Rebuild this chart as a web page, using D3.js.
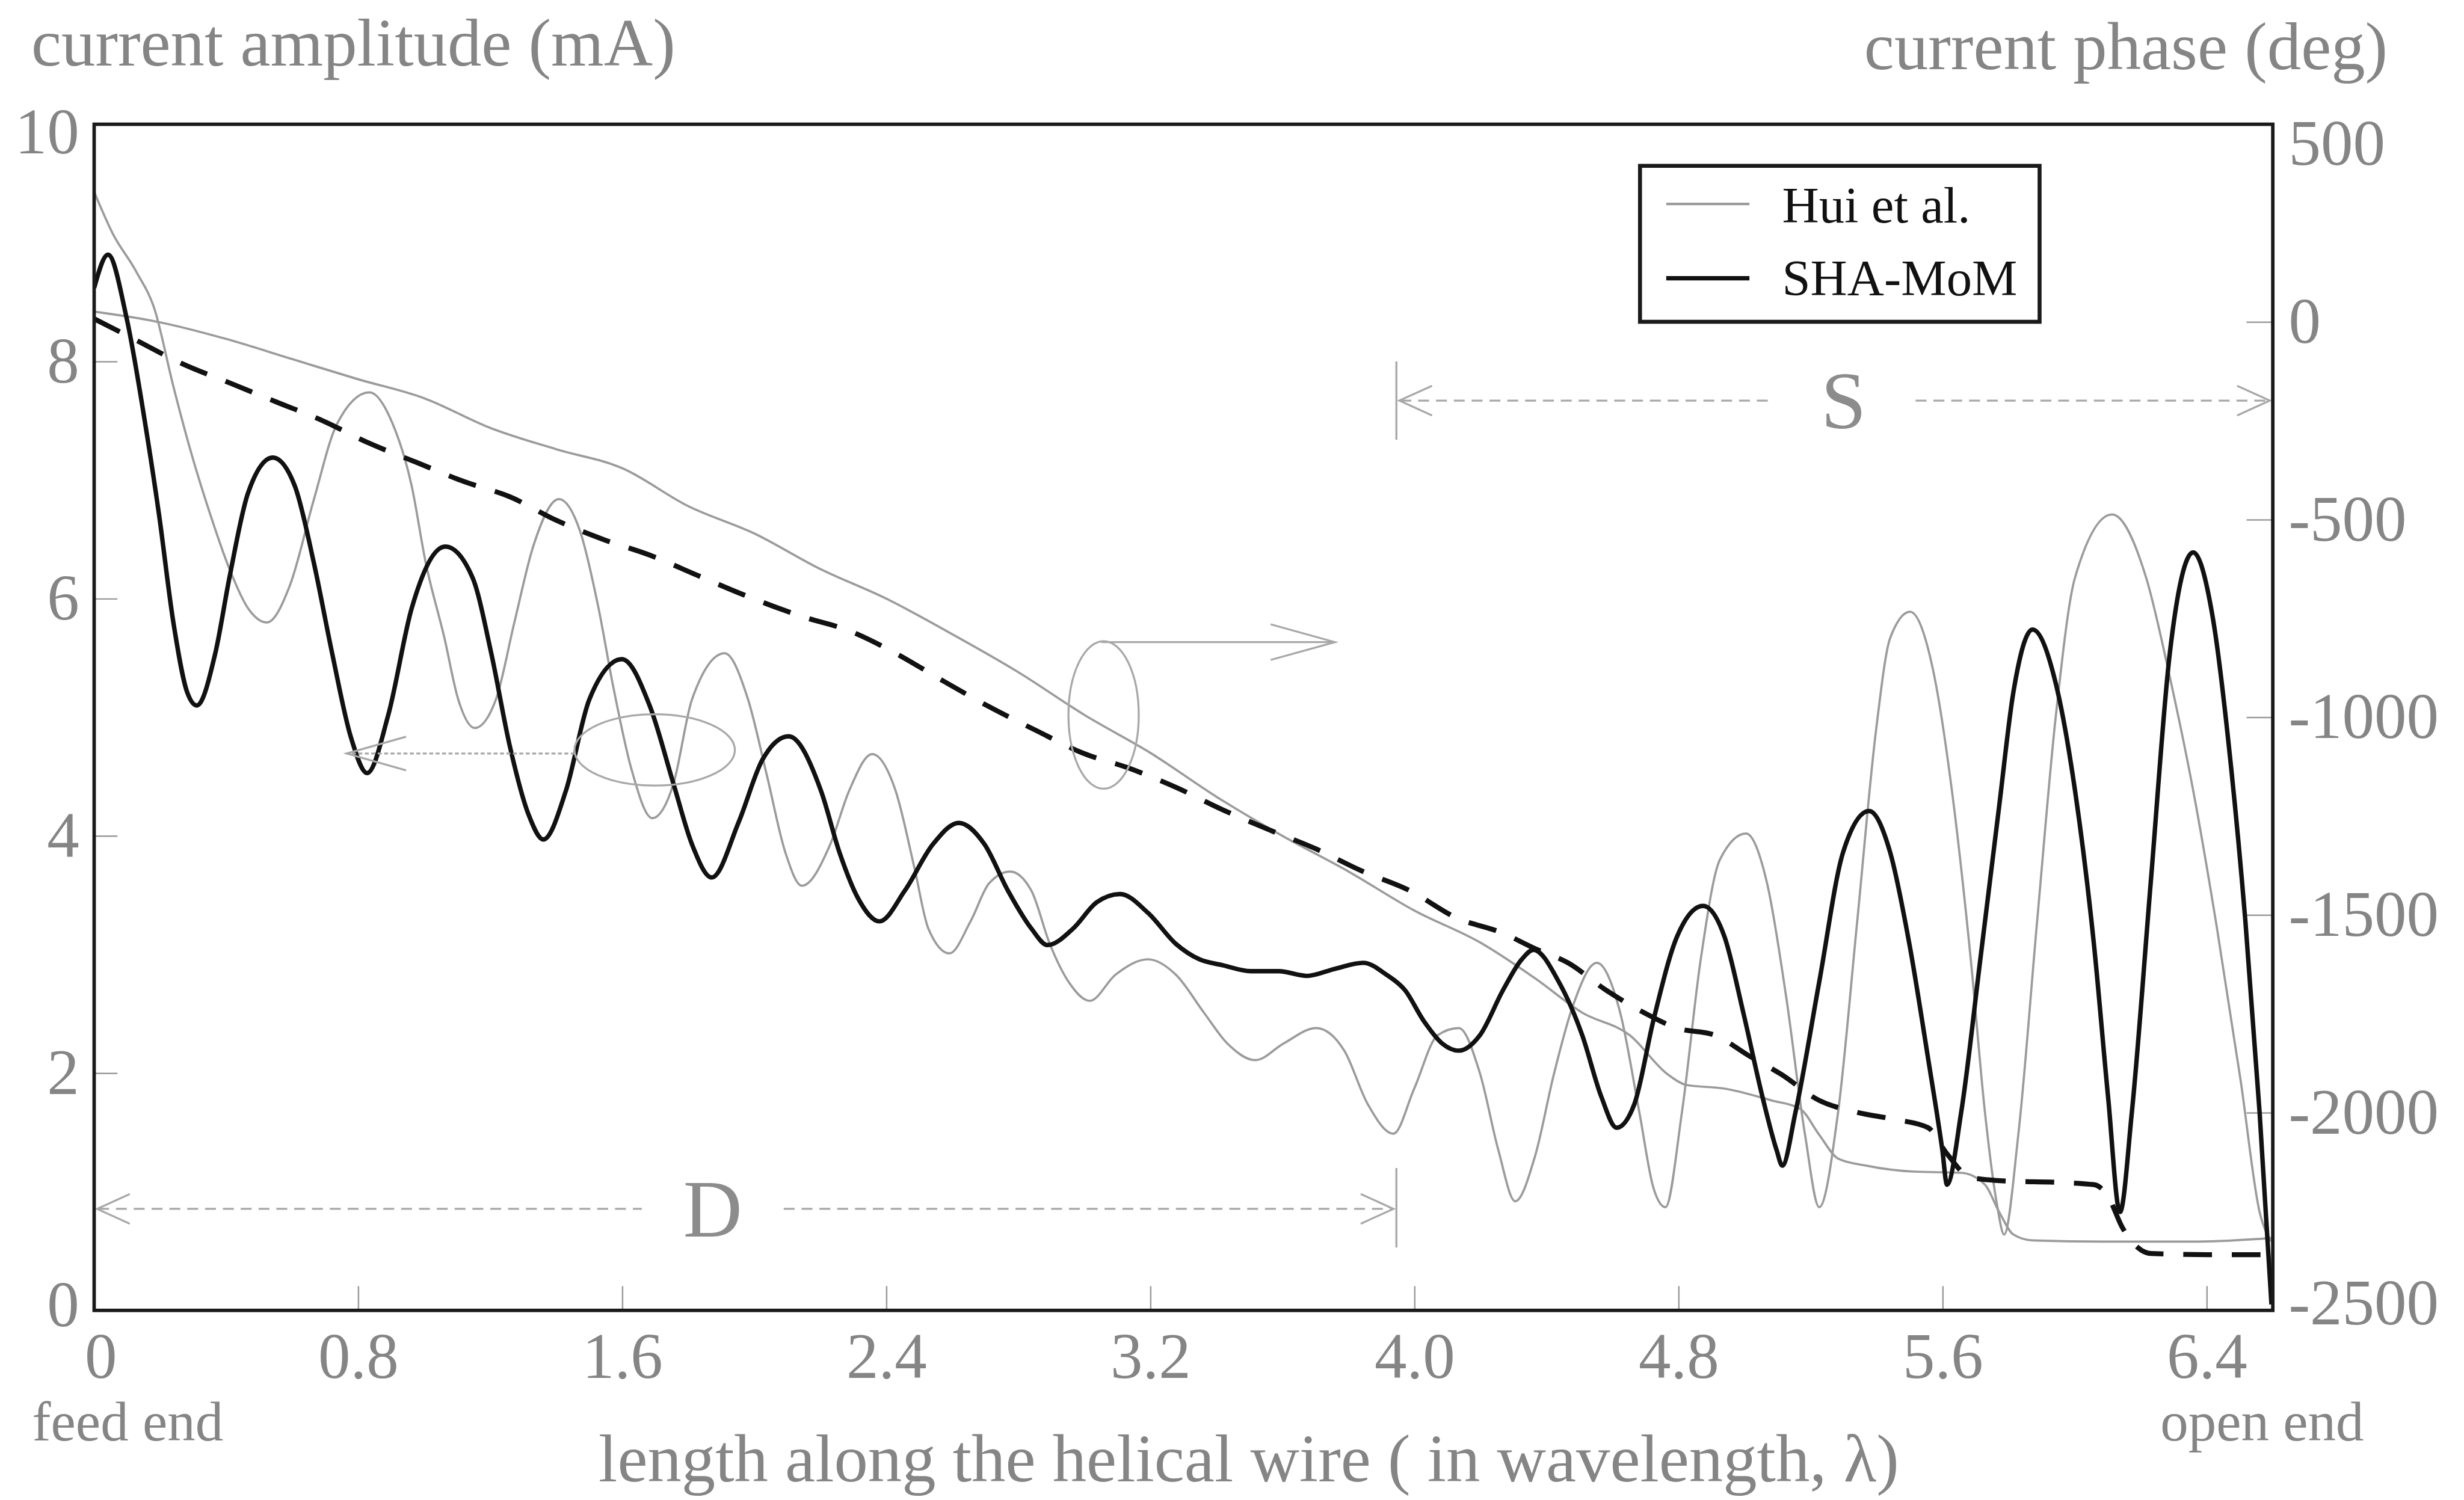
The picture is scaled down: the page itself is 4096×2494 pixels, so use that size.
<!DOCTYPE html>
<html>
<head>
<meta charset="utf-8">
<title>current along the helical wire</title>
<script src="https://d3js.org/d3.v7.min.js"></script>
<style>
  body { margin: 0; background: #fff; }
  svg { display: block; }
  .lbl { font-family: "Liberation Serif", "DejaVu Serif", serif; }
</style>
</head>
<body>
<svg id="chart"></svg>
<script>
// ---- values ----
var xTicks = [0, 0.8, 1.6, 2.4, 3.2, 4.0, 4.8, 5.6, 6.4];
var ampTicks = [0, 2, 4, 6, 8, 10];
var phaseTicks = [-2500, -2000, -1500, -1000, -500, 0, 500];

// Hui et al. amplitude (mA)
var xAmpHui = [0, 0.056, 0.127, 0.183, 0.240, 0.296, 0.353, 0.410, 0.466, 0.523, 0.594, 0.665, 0.735, 0.834, 0.905, 0.962, 1.004, 1.061, 1.103, 1.153, 1.217, 1.273, 1.330, 1.408, 1.472, 1.528, 1.571, 1.627, 1.691, 1.755, 1.811, 1.910, 1.981, 2.038, 2.094, 2.144, 2.230, 2.287, 2.357, 2.428, 2.485, 2.527, 2.591, 2.655, 2.711, 2.775, 2.839, 2.895, 2.952, 3.016, 3.094, 3.193, 3.277, 3.362, 3.433, 3.518, 3.603, 3.702, 3.787, 3.858, 3.936, 3.999, 4.070, 4.134, 4.198, 4.254, 4.305, 4.365, 4.422, 4.480, 4.552, 4.623, 4.681, 4.724, 4.760, 4.810, 4.867, 4.925, 5.004, 5.068, 5.126, 5.183, 5.226, 5.283, 5.341, 5.398, 5.441, 5.501, 5.570, 5.628, 5.685, 5.728, 5.764, 5.786, 5.829, 5.886, 5.943, 6.001, 6.113, 6.216, 6.288, 6.359, 6.431, 6.503, 6.560, 6.596];
var ampHui = [9.43, 9.08, 8.76, 8.44, 7.79, 7.21, 6.70, 6.25, 5.92, 5.80, 6.12, 6.83, 7.47, 7.74, 7.47, 6.95, 6.31, 5.67, 5.15, 4.91, 5.15, 5.80, 6.44, 6.84, 6.57, 5.92, 5.28, 4.57, 4.15, 4.44, 5.15, 5.54, 5.15, 4.51, 3.86, 3.58, 3.93, 4.38, 4.69, 4.38, 3.73, 3.22, 3.01, 3.28, 3.60, 3.70, 3.54, 3.09, 2.77, 2.61, 2.83, 2.96, 2.83, 2.51, 2.25, 2.11, 2.25, 2.38, 2.19, 1.74, 1.49, 1.87, 2.32, 2.38, 2.00, 1.35, 0.92, 1.30, 1.99, 2.57, 2.93, 2.51, 1.67, 1.03, 0.87, 1.67, 2.96, 3.80, 4.02, 3.60, 2.64, 1.48, 0.87, 1.67, 3.28, 4.89, 5.67, 5.89, 5.41, 4.38, 2.96, 1.67, 0.90, 0.64, 1.48, 3.28, 5.02, 6.18, 6.71, 6.18, 5.34, 4.38, 3.22, 1.93, 0.83, 0.58];

// SHA-MoM amplitude (mA)
var xAmpSha = [0, 0.042, 0.098, 0.155, 0.197, 0.240, 0.282, 0.311, 0.367, 0.410, 0.466, 0.541, 0.608, 0.665, 0.721, 0.778, 0.827, 0.891, 0.962, 1.064, 1.146, 1.203, 1.259, 1.316, 1.361, 1.429, 1.500, 1.599, 1.684, 1.755, 1.811, 1.871, 1.953, 2.024, 2.104, 2.202, 2.258, 2.315, 2.379, 2.456, 2.541, 2.619, 2.697, 2.768, 2.839, 2.888, 2.966, 3.037, 3.108, 3.193, 3.277, 3.348, 3.419, 3.504, 3.589, 3.674, 3.759, 3.844, 3.915, 3.971, 4.028, 4.084, 4.134, 4.198, 4.268, 4.325, 4.360, 4.437, 4.508, 4.566, 4.612, 4.666, 4.724, 4.795, 4.874, 4.939, 4.996, 5.054, 5.097, 5.114, 5.154, 5.226, 5.298, 5.377, 5.441, 5.499, 5.556, 5.599, 5.613, 5.656, 5.714, 5.771, 5.814, 5.872, 5.943, 6.001, 6.058, 6.101, 6.137, 6.173, 6.230, 6.288, 6.359, 6.417, 6.474, 6.517, 6.560, 6.596];
var ampSha = [8.62, 8.90, 8.37, 7.47, 6.70, 5.80, 5.21, 5.10, 5.54, 6.18, 6.89, 7.19, 6.95, 6.31, 5.54, 4.83, 4.53, 5.02, 5.92, 6.44, 6.18, 5.54, 4.76, 4.18, 3.97, 4.38, 5.15, 5.49, 5.09, 4.44, 3.93, 3.65, 4.12, 4.64, 4.84, 4.38, 3.86, 3.47, 3.28, 3.54, 3.93, 4.11, 3.93, 3.54, 3.22, 3.08, 3.22, 3.44, 3.51, 3.35, 3.09, 2.96, 2.91, 2.86, 2.86, 2.82, 2.88, 2.93, 2.83, 2.70, 2.44, 2.25, 2.19, 2.32, 2.70, 2.96, 3.04, 2.77, 2.32, 1.80, 1.54, 1.74, 2.45, 3.15, 3.41, 3.15, 2.51, 1.80, 1.35, 1.22, 1.67, 2.77, 3.86, 4.21, 3.86, 3.09, 2.12, 1.35, 1.06, 1.67, 2.96, 4.25, 5.21, 5.74, 5.28, 4.38, 3.09, 1.80, 0.83, 1.67, 3.60, 5.54, 6.39, 5.86, 4.57, 3.28, 1.67, 0.05];

// Hui et al. phase (deg)
var xPhHui = [0, 0.2, 0.4, 0.6, 0.8, 1.0, 1.2, 1.4, 1.6, 1.8, 2.0, 2.2, 2.4, 2.6, 2.8, 3.0, 3.2, 3.4, 3.6, 3.8, 4.0, 4.2, 4.365, 4.508, 4.652, 4.767, 4.824, 4.939, 5.082, 5.168, 5.226, 5.283, 5.369, 5.513, 5.656, 5.728, 5.771, 5.814, 5.872, 6.087, 6.374, 6.596];
var phHui = [26, -1, -43, -94, -145, -193, -268, -322, -370, -466, -535, -625, -700, -790, -886, -994, -1090, -1201, -1300, -1390, -1489, -1570, -1660, -1747, -1804, -1903, -1930, -1939, -1969, -1990, -2056, -2116, -2134, -2149, -2152, -2182, -2251, -2308, -2323, -2326, -2326, -2317];

// SHA-MoM phase (deg)
var xPhSha = [0, 0.127, 0.268, 0.41, 0.551, 0.693, 0.834, 0.976, 1.118, 1.259, 1.401, 1.542, 1.684, 1.825, 1.967, 2.145, 2.287, 2.428, 2.57, 2.711, 2.853, 2.994, 3.136, 3.277, 3.419, 3.561, 3.702, 3.844, 3.985, 4.127, 4.268, 4.365, 4.465, 4.58, 4.695, 4.795, 4.91, 5.011, 5.111, 5.226, 5.341, 5.455, 5.556, 5.613, 5.685, 5.8, 5.943, 6.058, 6.101, 6.144, 6.187, 6.23, 6.4, 6.596];
var phSha = [8, -46, -106, -154, -202, -250, -307, -355, -403, -442, -502, -550, -590, -640, -690, -745, -781, -838, -907, -973, -1033, -1090, -1129, -1177, -1234, -1285, -1333, -1390, -1438, -1507, -1546, -1585, -1621, -1690, -1747, -1786, -1804, -1855, -1903, -1969, -1999, -2017, -2038, -2104, -2164, -2173, -2176, -2182, -2212, -2290, -2338, -2356, -2359, -2359];

var seriesNames = ["Hui et al.", "SHA-MoM"];

// ---- layout (reference pixel units, scaled by the viewBox) ----
var W = 4976, H = 3030;
var plotL = 190, plotR = 4590, plotT = 251, plotB = 2647;
var grey = "#9b9b9b", textGrey = "#858585";

var svg = d3.select("#chart")
  .attr("width", 4096)
  .attr("height", 2494)
  .attr("viewBox", "0 0 " + W + " " + H);

svg.append("rect").attr("width", W).attr("height", H).attr("fill", "#fff");

var x = d3.scaleLinear().domain([0, 6.6]).range([plotL, plotR]);
var yAmp = d3.scaleLinear().domain([0, 10]).range([plotB, plotT]);
var yPh = d3.scaleLinear().domain([-2500, 500]).range([plotB, plotT]);

svg.append("clipPath").attr("id", "plot")
  .append("rect").attr("x", plotL).attr("y", plotT)
  .attr("width", plotR - plotL).attr("height", plotB - plotT);

//axes
var xAxis = d3.axisBottom(x).tickValues(xTicks).tickSize(-49).tickPadding(44)
  .tickFormat(function(d){ return d === 0 ? "0" : d3.format(".1f")(d); });
var yAxisL = d3.axisLeft(yAmp).tickValues(ampTicks).tickSize(-47).tickPadding(30)
  .tickFormat(function(d){ return String(d); });
var yAxisR = d3.axisRight(yPh).tickValues(phaseTicks).tickSize(-53).tickPadding(32)
  .tickFormat(function(d){ return String(d); });

function styleAxis(g) {
  g.select(".domain").remove();
  g.selectAll(".tick line").attr("stroke", grey).attr("stroke-width", 3);
  g.selectAll(".tick text").attr("class", "lbl").attr("font-size", 130).attr("fill", textGrey);
}

var gx = svg.append("g").attr("transform", "translate(0," + plotB + ")").call(xAxis).call(styleAxis);
gx.selectAll(".tick").filter(function(d){ return d === 0; }).select("line").remove();
gx.selectAll(".tick").filter(function(d){ return d === 0; }).select("text").attr("dx", "0.1em");

var gl = svg.append("g").attr("transform", "translate(" + plotL + ",0)").call(yAxisL).call(styleAxis);
gl.selectAll(".tick text").attr("dy", function(d){ return d === 10 ? "0.45em" : (d === 0 ? "0.24em" : "0.32em"); });

var gr = svg.append("g").attr("transform", "translate(" + plotR + ",0)").call(yAxisR).call(styleAxis);
gr.selectAll(".tick text").attr("dy", function(d){ return d === 500 ? "0.63em" : (d === -2500 ? "0.21em" : "0.32em"); });

// curves
var ampLine = d3.line().x(function(d){ return x(d[0]); }).y(function(d){ return yAmp(d[1]); }).curve(d3.curveMonotoneX);
var phLine = d3.line().x(function(d){ return x(d[0]); }).y(function(d){ return yPh(d[1]); }).curve(d3.curveMonotoneX);

var curves = svg.append("g").attr("clip-path", "url(#plot)").attr("fill", "none");

curves.append("path").datum(d3.zip(xPhHui, phHui)).attr("d", phLine)
  .attr("stroke", grey).attr("stroke-width", 4.5);
curves.append("path").datum(d3.zip(xAmpHui, ampHui)).attr("d", ampLine)
  .attr("stroke", grey).attr("stroke-width", 4.5);
curves.append("path").datum(d3.zip(xPhSha, phSha)).attr("d", phLine)
  .attr("stroke", "#111").attr("stroke-width", 10).attr("stroke-dasharray", "58,40");
curves.append("path").datum(d3.zip(xAmpSha, ampSha)).attr("d", ampLine)
  .attr("stroke", "#111").attr("stroke-width", 9).attr("stroke-linejoin", "round");

// annotations: S and D spans, and the two "which axis" ellipses
var notes = svg.append("g").attr("fill", "none").attr("stroke", "#a8a8a8").attr("stroke-width", 4);

function arrowHead(px, py, dir, len, half) {
  notes.append("path")
    .attr("d", "M" + (px - dir * len) + "," + (py - half) + "L" + px + "," + py + "L" + (px - dir * len) + "," + (py + half));
}

function span(x0, x1, level, gap0, gap1, label) {
  var yy = yAmp(level);
  notes.append("line").attr("x1", x(x0) + 8).attr("x2", x(gap0)).attr("y1", yy).attr("y2", yy).attr("stroke-dasharray", "22,14");
  notes.append("line").attr("x1", x(gap1)).attr("x2", x(x1) - 8).attr("y1", yy).attr("y2", yy).attr("stroke-dasharray", "22,14");
  arrowHead(x(x0) + 6, yy, -1, 66, 30);
  arrowHead(x(x1) - 6, yy, 1, 66, 30);
  svg.append("text").attr("class", "lbl")
    .attr("x", x((gap0 + gap1) / 2)).attr("y", yy + 56)
    .attr("text-anchor", "middle").attr("font-size", 165).attr("fill", "#8c8c8c")
    .text(label);
}

var divider = 3.945;
span(divider, 6.6, 7.67, 5.082, 5.518, "S");
span(0, divider, 0.856, 1.659, 2.089, "D");
notes.append("line").attr("x1", x(divider)).attr("x2", x(divider)).attr("y1", yAmp(8.0)).attr("y2", yAmp(7.34));
notes.append("line").attr("x1", x(divider)).attr("x2", x(divider)).attr("y1", yAmp(1.2)).attr("y2", yAmp(0.53));

// ellipse for the amplitude curves, arrow to the left axis
notes.append("ellipse").attr("cx", x(1.698)).attr("cy", yAmp(4.725)).attr("rx", 162).attr("ry", 72);
notes.append("line").attr("x1", x(1.456)).attr("x2", x(0.765)).attr("y1", yAmp(4.695)).attr("y2", yAmp(4.695))
  .attr("stroke-dasharray", "8,5");
arrowHead(x(0.765), yAmp(4.695), -1, 120, 34);

// ellipse for the phase curves, arrow to the right axis
notes.append("ellipse").attr("cx", x(3.058)).attr("cy", yAmp(5.02)).attr("rx", 71).attr("ry", 149);
notes.append("line").attr("x1", x(3.051)).attr("x2", x(3.759)).attr("y1", yAmp(5.634)).attr("y2", yAmp(5.634));
arrowHead(x(3.759), yAmp(5.634), 1, 130, 36);

// frame
svg.append("rect").attr("x", plotL).attr("y", plotT).attr("width", plotR - plotL).attr("height", plotB - plotT)
  .attr("fill", "none").attr("stroke", "#1a1a1a").attr("stroke-width", 7);

// legend
var lg = svg.append("g");
lg.append("rect").attr("x", 3312).attr("y", 335).attr("width", 807).attr("height", 315)
  .attr("fill", "#fff").attr("stroke", "#1a1a1a").attr("stroke-width", 8);
lg.append("line").attr("x1", 3365).attr("x2", 3533).attr("y1", 412).attr("y2", 412)
  .attr("stroke", grey).attr("stroke-width", 5);
lg.append("line").attr("x1", 3365).attr("x2", 3533).attr("y1", 562).attr("y2", 562)
  .attr("stroke", "#111").attr("stroke-width", 9);
lg.selectAll("text.leg").data(seriesNames).enter().append("text")
  .attr("class", "lbl leg")
  .attr("x", 3599).attr("y", function(d, i){ return i === 0 ? 449 : 596; })
  .attr("font-size", 103).attr("fill", "#111")
  .text(function(d){ return d; });

// axis titles
svg.append("text").attr("class", "lbl").attr("x", 63).attr("y", 132)
  .attr("font-size", 137).attr("fill", textGrey).text("current amplitude (mA)");
svg.append("text").attr("class", "lbl").attr("x", 4822).attr("y", 140).attr("text-anchor", "end")
  .attr("font-size", 137).attr("fill", textGrey).text("current phase (deg)");
svg.append("text").attr("class", "lbl").attr("x", 2522).attr("y", 2992).attr("text-anchor", "middle")
  .attr("font-size", 137).attr("fill", textGrey).text("length along the helical wire ( in wavelength, \u03bb)");
svg.append("text").attr("class", "lbl").attr("x", 65).attr("y", 2910)
  .attr("font-size", 113).attr("fill", textGrey).text("feed end");
svg.append("text").attr("class", "lbl").attr("x", 4363).attr("y", 2910)
  .attr("font-size", 113).attr("fill", textGrey).text("open end");
</script>
</body>
</html>
